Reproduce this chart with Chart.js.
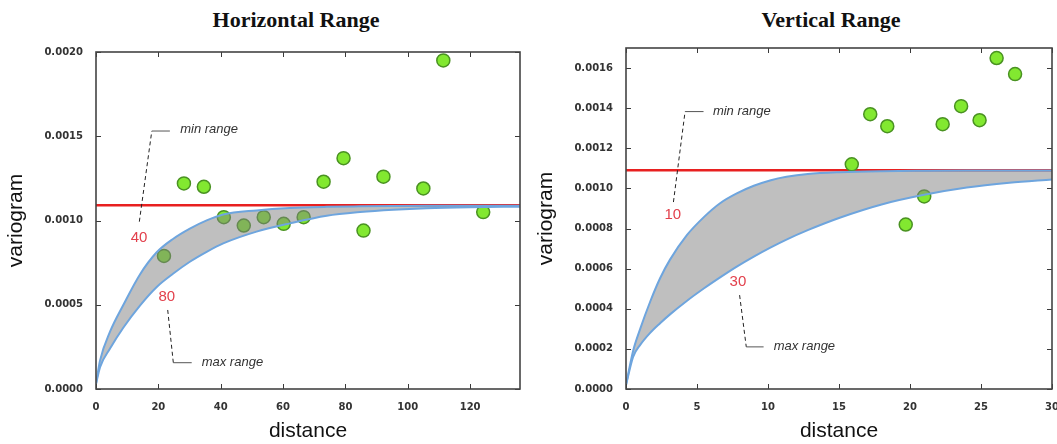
<!DOCTYPE html>
<html>
<head>
<meta charset="utf-8">
<script src="https://cdn.jsdelivr.net/npm/chart.js@4.4.1/dist/chart.umd.min.js"></script>
<style>
  html, body { margin: 0; padding: 0; background: #fff; overflow: hidden; }
  .panel { position: absolute; top: 0; height: 444px; }
  .heading { position: absolute; top: 7px; width: 300px; text-align: center;
             font: bold 22px "Liberation Serif", "Times New Roman", serif; color: #111; line-height: 26px; }
</style>
</head>
<body>
<div class="heading" style="left:146px">Horizontal Range</div>
<div class="heading" style="left:681px">Vertical Range</div>
<div class="panel" style="left:0;width:528px"><canvas id="horizChart" width="528" height="444"></canvas></div>
<div class="panel" style="left:530px;width:540px"><canvas id="vertChart" width="540" height="444"></canvas></div>
<script>
// horizontal direction: experimental variogram
const horizLag = [21.8, 28.2, 34.6, 41.0, 47.4, 53.8, 60.2, 66.6, 73.0, 79.4, 85.8, 92.2, 105.0, 111.4, 124.2];
const horizGamma = [0.00079, 0.00122, 0.00120, 0.00102, 0.00097, 0.00102, 0.00098, 0.00102, 0.00123, 0.00137, 0.00094, 0.00126, 0.00119, 0.00195, 0.00105];
// horizontal model curves (min range / max range)
const horizModelLag = [0, 1.3, 4.5, 8.8, 14.1, 19.4, 24.8, 30.1, 35.5, 40.8, 51.5, 62.2, 74, 84.7, 95.4, 106, 120, 136];
const horizMinRange = [0.00003, 0.00017, 0.00034, 0.0005, 0.00068, 0.00081, 0.000892, 0.000952, 0.001001, 0.001036, 0.00106, 0.001074, 0.001081, 0.001084, 0.001086, 0.001087, 0.001087, 0.001087];
const horizMaxRange = [0.00003, 0.00013, 0.00024, 0.000365, 0.000495, 0.000604, 0.000685, 0.000755, 0.000814, 0.000864, 0.000934, 0.000983, 0.001028, 0.00105, 0.001064, 0.001073, 0.001079, 0.001082];
const horizSill = [0.00109, 0.00109];
const horizRanges = [40, 80];
const horizXTicks = [0, 20, 40, 60, 80, 100, 120];
const horizYTicks = [0, 0.0005, 0.0010, 0.0015, 0.0020];

// vertical direction
const vertLag = [15.9, 17.2, 18.4, 19.7, 21.0, 22.3, 23.6, 24.9, 26.1, 27.4];
const vertGamma = [0.00112, 0.00137, 0.00131, 0.00082, 0.00096, 0.00132, 0.00141, 0.00134, 0.00165, 0.00157];
const vertModelLag = [0, 0.5, 1.0, 1.7, 2.4, 3.1, 4.3, 5.5, 6.6, 7.8, 9.0, 10.2, 11.3, 12.8, 15.1, 18, 21, 24, 27, 30];
const vertMinRange = [0.00002, 0.00019, 0.0003, 0.000435, 0.000552, 0.000645, 0.000768, 0.000858, 0.000925, 0.000975, 0.001013, 0.001041, 0.001058, 0.001072, 0.001081, 0.001086, 0.001088, 0.001089, 0.001089, 0.001089];
const vertMaxRange = [0.00002, 0.00016, 0.00022, 0.00028, 0.000328, 0.000372, 0.00044, 0.000502, 0.000555, 0.00061, 0.00066, 0.000706, 0.000745, 0.000792, 0.000855, 0.00092, 0.000968, 0.001004, 0.001028, 0.001045];
const vertSill = [0.00109, 0.00109];
const vertRanges = [10, 30];
const vertXTicks = [0, 5, 10, 15, 20, 25, 30];
const vertYTicks = [0, 0.0002, 0.0004, 0.0006, 0.0008, 0.0010, 0.0012, 0.0014, 0.0016];

const zip = (xs, ys) => xs.map((x, i) => ({x: x, y: ys[i]}));

// box around the plot with matplotlib style inward ticks
const framePlugin = {
  id: 'frame',
  afterDatasetsDraw(chart) {
    const {ctx, chartArea: a, scales: {x, y}} = chart;
    ctx.save();
    ctx.strokeStyle = '#3a3a3a';
    ctx.lineWidth = 1;
    x.ticks.forEach(t => {
      const px = Math.round(x.getPixelForValue(t.value)) + 0.5;
      ctx.beginPath();
      ctx.moveTo(px, a.bottom); ctx.lineTo(px, a.bottom - 5);
      ctx.moveTo(px, a.top); ctx.lineTo(px, a.top + 5);
      ctx.stroke();
    });
    y.ticks.forEach(t => {
      const py = Math.round(y.getPixelForValue(t.value)) + 0.5;
      ctx.beginPath();
      ctx.moveTo(a.left, py); ctx.lineTo(a.left + 5, py);
      ctx.moveTo(a.right, py); ctx.lineTo(a.right - 5, py);
      ctx.stroke();
    });
    ctx.lineWidth = 1.6;
    ctx.strokeStyle = '#444';
    ctx.strokeRect(a.left, a.top, a.right - a.left, a.bottom - a.top);
    ctx.restore();
  }
};

// "min range" / "max range" notes with their leader lines
const calloutPlugin = {
  id: 'callouts',
  afterDatasetsDraw(chart, args, opts) {
    const {ctx, scales: {x, y}} = chart;
    const P = p => [x.getPixelForValue(p[0]), y.getPixelForValue(p[1])];
    ctx.save();
    (opts.leaders || []).forEach(l => {
      const f = P(l.from), e = P(l.elbow), t = P(l.to);
      ctx.strokeStyle = '#222';
      ctx.lineWidth = 1;
      ctx.setLineDash([4, 3]);
      ctx.beginPath(); ctx.moveTo(f[0], f[1]); ctx.lineTo(e[0], e[1]); ctx.stroke();
      ctx.setLineDash([]);
      ctx.strokeStyle = '#555';
      ctx.beginPath(); ctx.moveTo(e[0], e[1]); ctx.lineTo(t[0], t[1]); ctx.stroke();
    });
    (opts.labels || []).forEach(l => {
      const p = P([l.x, l.y]);
      ctx.textBaseline = 'middle';
      if (l.kind === 'range') {
        ctx.font = '15px "Liberation Sans", Arial, sans-serif';
        ctx.fillStyle = '#e2404c';
        ctx.textAlign = 'center';
      } else {
        ctx.font = 'italic 13px "Liberation Sans", Arial, sans-serif';
        ctx.fillStyle = '#333';
        ctx.textAlign = 'left';
      }
      ctx.fillText(l.text, p[0], p[1]);
    });
    ctx.restore();
  }
};

function makePanel(canvasId, p) {
  const ctx = document.getElementById(canvasId).getContext('2d');
  return new Chart(ctx, {
    type: 'scatter',
    data: {
      datasets: [
        {
          label: 'sill',
          data: zip([p.xMin, p.xMax], p.sill),
          showLine: true,
          borderColor: 'rgb(232,32,32)',
          borderWidth: 2.5,
          pointRadius: 0,
          order: 5
        },
        {
          label: 'experimental',
          data: zip(p.lag, p.gamma),
          backgroundColor: 'rgb(130,232,48)',
          borderColor: 'rgb(74,146,34)',
          borderWidth: 1.5,
          pointRadius: 6.5,
          pointHoverRadius: 6.5,
          order: 4
        },
        {
          label: 'min range',
          data: zip(p.modelLag, p.minRange),
          showLine: true,
          borderColor: 'rgb(110,165,222)',
          borderWidth: 2,
          pointRadius: 0,
          cubicInterpolationMode: 'monotone',
          fill: {target: 3},
          backgroundColor: 'rgba(128,128,128,0.5)',
          order: 3
        },
        {
          label: 'max range',
          data: zip(p.modelLag, p.maxRange),
          showLine: true,
          borderColor: 'rgb(110,165,222)',
          borderWidth: 2,
          pointRadius: 0,
          cubicInterpolationMode: 'monotone',
          order: 2
        }
      ]
    },
    options: {
      responsive: false,
      animation: false,
      layout: {padding: {top: p.padTop, right: p.padRight, left: 0, bottom: 0}},
      plugins: {
        legend: {display: false},
        tooltip: {enabled: false},
        callouts: p.callouts
      },
      scales: {
        x: {
          type: 'linear',
          min: p.xMin,
          max: p.xMax,
          afterBuildTicks: s => { s.ticks = p.xTicks.map(v => ({value: v})); },
          afterFit: s => { s.height = 55; },
          grid: {display: false},
          border: {display: false},
          ticks: {
            maxRotation: 0,
            padding: 4,
            color: '#333',
            font: {family: 'DejaVu Sans', size: 10, weight: 'bold'},
            callback: v => String(v)
          },
          title: {
            display: true,
            text: 'distance',
            color: '#111',
            padding: {top: 0, bottom: 0},
            font: {family: 'Liberation Sans', size: 21}
          }
        },
        y: {
          type: 'linear',
          min: 0,
          max: p.yMax,
          afterBuildTicks: s => { s.ticks = p.yTicks.map(v => ({value: v})); },
          afterFit: s => { s.width = 96; },
          grid: {display: false},
          border: {display: false},
          ticks: {
            padding: 5,
            color: '#333',
            font: {family: 'DejaVu Sans', size: 10, weight: 'bold'},
            callback: v => Number(v).toFixed(4)
          },
          title: {
            display: true,
            text: 'variogram',
            color: '#111',
            padding: {top: 4, bottom: 0},
            font: {family: 'Liberation Sans', size: 21}
          }
        }
      }
    },
    plugins: [framePlugin, calloutPlugin]
  });
}

makePanel('horizChart', {
  lag: horizLag, gamma: horizGamma,
  modelLag: horizModelLag, minRange: horizMinRange, maxRange: horizMaxRange,
  sill: horizSill, xMin: 0, xMax: 136, yMax: 0.0020,
  xTicks: horizXTicks, yTicks: horizYTicks,
  padTop: 52, padRight: 8,
  callouts: {
    labels: [
      {text: 'min range', x: 27, y: 0.00154, kind: 'note'},
      {text: String(horizRanges[0]), x: 13.8, y: 0.000896, kind: 'range'},
      {text: String(horizRanges[1]), x: 22.7, y: 0.000548, kind: 'range'},
      {text: 'max range', x: 33.9, y: 0.000156, kind: 'note'}
    ],
    leaders: [
      {from: [13.9, 0.000993], elbow: [17.9, 0.001531], to: [23.7, 0.001531]},
      {from: [23.0, 0.000469], elbow: [24.8, 0.000156], to: [30.7, 0.000156]}
    ]
  }
});

makePanel('vertChart', {
  lag: vertLag, gamma: vertGamma,
  modelLag: vertModelLag, minRange: vertMinRange, maxRange: vertMaxRange,
  sill: vertSill, xMin: 0, xMax: 30, yMax: 0.0017,
  xTicks: vertXTicks, yTicks: vertYTicks,
  padTop: 48, padRight: 18,
  callouts: {
    labels: [
      {text: 'min range', x: 6.12, y: 0.001383, kind: 'note'},
      {text: String(vertRanges[0]), x: 3.3, y: 0.000866, kind: 'range'},
      {text: String(vertRanges[1]), x: 7.88, y: 0.000534, kind: 'range'},
      {text: 'max range', x: 10.4, y: 0.00021, kind: 'note'}
    ],
    leaders: [
      {from: [3.34, 0.000932], elbow: [4.16, 0.001383], to: [5.46, 0.001383]},
      {from: [8.0, 0.000468], elbow: [8.47, 0.00021], to: [9.69, 0.00021]}
    ]
  }
});
</script>
</body>
</html>
